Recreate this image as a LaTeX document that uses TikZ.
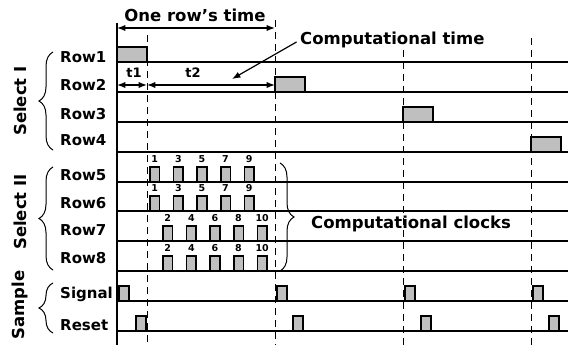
\documentclass[tikz,border=0pt]{standalone}
\usepackage{fontspec}
\setmainfont{DejaVu Sans}
\usetikzlibrary{calc,arrows.meta,decorations.pathreplacing}

\begin{document}
\begin{tikzpicture}[>=Latex, x=1pt, y=-1pt,
    wave/.style={line width=1.3pt},
    pulse/.style={draw, line width=1.6pt, fill=gray!50},
    guide/.style={line width=1pt, dash pattern=on 7pt off 5pt},
    dim/.style={line width=1.2pt},
    lbl/.style={font=\fontsize{15}{15}\selectfont\bfseries, anchor=base west, inner sep=0pt},
    grp/.style={font=\fontsize{16.5}{16.5}\selectfont\bfseries, rotate=90, inner sep=0pt},
    note/.style={font=\fontsize{16.5}{16.5}\selectfont\bfseries, inner sep=0pt},
    num/.style={font=\fontsize{9.5}{9.5}\selectfont\bfseries, inner sep=0pt},
    brc/.style={decorate, decoration={brace, amplitude=14pt}, line width=1pt}]
  \useasboundingbox (0,0) rectangle (568,345);
  % time axis, row lines and row names
  \draw[wave] (117,23) -- (117,345);
  \foreach \n/\y/\ly/\txt in {1/62/63/Row1, 2/92/91/Row2, 3/122/120/Row3, 4/152/145/Row4,
      5/182/180/Row5, 6/211/208/Row6, 7/241/235/Row7, 8/271/263/Row8,
      9/301/298/Signal, 10/331/330/Reset} {
    \draw[wave] (117,\y) -- (568,\y);
    \node[lbl] (row\n) at (60,\ly) {\txt};
  }
  % dashed time marks
  \foreach \x/\t in {147/35, 275/20, 403/50, 531/38}
    \draw[guide] (\x,\t) -- (\x,345);
  % Select I pulses
  \foreach \x/\y in {117/62, 275/92, 403/122, 531/152}
    \draw[pulse] (\x,\y) rectangle ++(30,-15);
  % Select II clocks
  \foreach \y/\s in {182/150, 211/150, 241/163, 271/163} {
    \foreach \k in {0,...,4} {
      \pgfmathsetmacro\xa{\s+23.6*\k}
      \pgfmathtruncatemacro\m{\s==150 ? 2*\k+1 : 2*\k+2}
      \draw[pulse] (\xa,\y) rectangle ++(9.5,-15);
      \node[num] (clk\y-\m) at (\xa+4.75,\y-23) {\m};
    }
  }
  % Sample pulses
  \foreach \x in {119, 277, 405, 533}
    \draw[pulse] (\x,301) rectangle ++(10,-15);
  \foreach \x in {136, 293, 421, 549}
    \draw[pulse] (\x,331) rectangle ++(10,-15);
  % group names and braces
  \node[grp] (sel1) at (20,101) {Select I};
  \node[grp] (sel2) at (20,212) {Select II};
  \node[grp] (samp) at (20,305) {Sample};
  \draw[brc] (53,150) -- (53,52);
  \draw[brc] (53,270) -- (53,167);
  \draw[brc] (53,333) -- (53,283);
  \draw[brc] (280,163) -- (280,271);
  \node[note] (clocks) at (411,224) {Computational clocks};
  % timing marks
  \coordinate (t0) at (117,85);
  \coordinate (t1e) at (147,85);
  \coordinate (t2e) at (275,85);
  \coordinate (r0) at (117,28);
  \coordinate (r1) at (275,28);
  \node[font=\fontsize{13}{13}\selectfont\bfseries, inner sep=0pt] (lt1) at (134,73) {t1};
  \node[font=\fontsize{13}{13}\selectfont\bfseries, inner sep=0pt] (lt2) at (193,73) {t2};
  \draw[dim, <->] (t0) -- (t1e);
  \draw[dim, <->] (t1e) -- (t2e);
  \draw[dim, <->] (r0) -- (r1);
  \node[note] (rowtime) at (195,15) {One row\symbol{39}s time};
  \node[note, anchor=west] (ctime) at (300,40) {Computational time};
  \coordinate (ctip) at (232,79);
  \draw[dim, ->, shorten <=4pt] (ctime.west) -- (ctip);
\end{tikzpicture}
\end{document}
